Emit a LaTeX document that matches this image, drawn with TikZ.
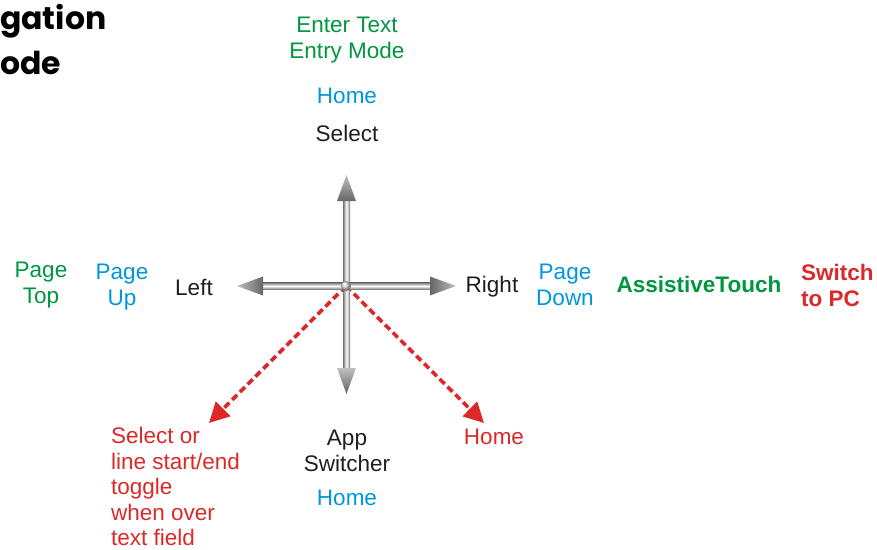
\documentclass[tikz,border=0pt]{standalone}
\usepackage{fontspec}
\setmainfont{Liberation Sans}
\newfontfamily\titlefont{Poppins}
\usetikzlibrary{arrows.meta,shadings}
\definecolor{tgreen}{RGB}{0,150,64}
\definecolor{tblue}{RGB}{0,150,220}
\definecolor{tred}{RGB}{220,40,40}
\definecolor{tblack}{RGB}{30,30,30}
\tikzset{
  lbl/.style={font=\fontsize{22.5}{26}\selectfont, inner sep=0pt, align=center},
  lbll/.style={font=\fontsize{22.5}{25.5}\selectfont, inner sep=0pt, align=left},
  vshaft/.style={left color=gray!90!black, right color=gray!90!black, middle color=white, draw=none},
  hshaft/.style={top color=gray!90!black, bottom color=gray!90!black, middle color=white, draw=none},
  headfill/.style={top color=gray!50, bottom color=gray!80!black, draw=none},
  reddash/.style={tred, line width=3.6pt, dash pattern=on 7pt off 4pt, -{Triangle[length=20pt,width=20pt]}}
}
\begin{document}
\begin{tikzpicture}[x=1pt,y=-1pt]
\useasboundingbox (0,0) rectangle (877,549);
% title
\node[font=\titlefont\bfseries\fontsize{31.5}{40}\selectfont, anchor=west, inner sep=0pt] (t1) at (0,21) {gation};
\node[font=\titlefont\bfseries\fontsize{31.5}{40}\selectfont, anchor=west, inner sep=0pt] (t2) at (0,63) {ode};

\coordinate (c) at (346,286);
\coordinate (up) at (346.5,175);
\coordinate (dn) at (346.5,394);
\coordinate (lf) at (237,286);
\coordinate (rt) at (456,286);
\coordinate (dl) at (209,423);
\coordinate (dr) at (484,423);

% red dashed arrows
\draw[reddash] (c) -- (dl);
\draw[reddash] (c) -- (dr);

% grey arrows: shafts
\shade[vshaft] (343,198) rectangle (350,372);
\shade[hshaft] (260,282.5) rectangle (434,289.5);
% heads
\shade[headfill] (up) -- (337,201) -- (356,201) -- cycle;
\shade[headfill] (dn) -- (337,368) -- (356,368) -- cycle;
\shade[left color=gray!50, right color=gray!80!black] (lf) -- (263,276.5) -- (263,295.5) -- cycle;
\shade[right color=gray!50, left color=gray!80!black] (rt) -- (430,276.5) -- (430,295.5) -- cycle;
\shade[ball color=gray!30] (c) circle (5);

% labels top
\node[lbl, tgreen] (entry) at (347,40) {Enter Text\\Entry Mode};
\node[lbl, tblue] (home1) at (347,96) {Home};
\node[lbl, tblack] (sel) at (347,133) {Select};
% left
\node[lbl, tblack] (left) at (194,287) {Left};
\node[lbl, tblue] (pgup) at (122,287) {Page\\Up};
\node[lbl, tgreen] (pgtop) at (41,285) {Page\\Top};
% right
\node[lbl, tblack] (right) at (492,287) {Right};
\node[lbl, tblue] (pgdn) at (565,285) {Page\\Down};
\node[lbl, tgreen, font=\bfseries\fontsize{22.5}{26}\selectfont] (at) at (699,284) {AssistiveTouch};
\node[lbll, tred, font=\bfseries\fontsize{22.5}{26}\selectfont, anchor=west] (sw) at (801,285) {Switch\\to PC};
% bottom
\node[lbll, tred, anchor=north west] (selor) at (111,427) {Select or\\line start/end\\toggle\\when over\\text field};
\node[lbl, tblack] (app) at (347,451) {App\\Switcher};
\node[lbl, tblue] (home2) at (347,498) {Home};
\node[lbl, tred] (home3) at (494,437) {Home};
\end{tikzpicture}
\end{document}
